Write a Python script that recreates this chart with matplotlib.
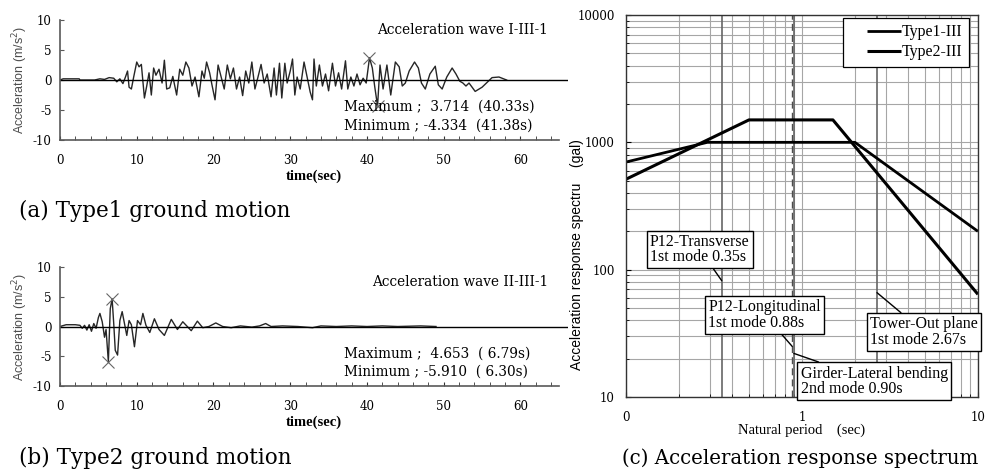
import matplotlib
matplotlib.use('Agg')
import matplotlib.pyplot as plt
from matplotlib.lines import Line2D
from matplotlib.legend_handler import HandlerLine2D
from matplotlib.ticker import FixedLocator, NullFormatter, LogLocator

# --- (a) Type1 wave: turning points ---
t1 = [0, 0.4, 2.5, 2.6, 4.5, 5.2, 5.8, 6.4, 7.0, 7.4, 7.8, 8.2, 8.5, 8.8, 9.0, 9.3, 9.6,
      10.0, 10.3, 10.6, 11.0, 11.3, 11.6, 11.9, 12.2, 12.5, 12.9, 13.3, 13.6, 13.9, 14.3,
      14.7, 15.2, 15.6, 16.0, 16.4, 16.8, 17.2, 17.6, 18.1, 18.5, 18.8, 19.1, 19.5, 19.8,
      20.2, 20.6, 21.0, 21.4, 21.8, 22.2, 22.6, 23.0, 23.4, 23.8, 24.2, 24.6, 25.0, 25.4,
      25.8, 26.2, 26.6, 27.0, 27.5, 27.9, 28.2, 28.6, 28.9, 29.3, 29.6, 30.0, 30.3, 30.6,
      30.9, 31.3, 31.8, 32.2, 32.6, 32.9, 33.1, 33.4, 33.8, 34.2, 34.6, 35.0, 35.5, 35.9,
      36.3, 36.7, 37.2, 37.5, 37.9, 38.3, 38.7, 39.1, 39.5, 39.9, 40.33, 40.7, 41.0, 41.38,
      41.7, 42.1, 42.6, 43.1, 43.7, 44.2, 44.6, 45.0, 45.5, 46.2, 46.7, 47.1, 47.6, 48.2,
      48.9, 49.3, 49.8, 50.4, 51.1, 51.6, 52.1, 52.5, 52.9, 53.3, 54.1, 55.0, 56.3, 57.2, 58.2]
a1 = [0, 0.2, 0.2, 0, 0, 0.2, 0.1, 0.4, 0.3, -0.3, 0.2, -0.6, 0.4, 1.5, -1.2, -1.5, 0.5,
      3.0, 2.2, 2.6, -3.0, -1.0, 1.2, -2.5, 2.0, 0.8, 1.8, -0.5, 3.3, -1.5, -1.3,
      0.6, -2.5, 1.8, 0.8, 3.0, 2.0, -1.0, 0.5, -2.8, 1.5, 0.3, 3.0, 1.2, -0.8,
      -3.3, 2.5, 0.5, -1.5, 2.5, 0.2, 2.0, -1.5, 0.5, -2.6, 1.5, -0.5, 3.0, -1.5,
      0.5, 2.6, -0.5, 1.0, -2.8, 2.0, -2.5, 2.8, -3.0, 2.8, -0.5, 1.5, 3.5, -2.5,
      0.5, -1.5, 3.0, 0.5, -2.0, -3.3, 3.5, -1.0, 2.5, -1.0, 1.0, -1.8, 2.8, -1.0,
      1.2, -1.5, 3.2, -1.5, 0.5, -1.0, 1.0, -0.8, 0.3, -0.5, 3.714, 2.0, -1.0, -4.334,
      2.5, -1.5, 2.5, -2.5, 3.0, 2.2, -1.0, -0.5, 1.5, 3.0, 2.0, -0.5, -1.5, 1.0,
      2.3, -0.8, -1.5, 0.5, 2.0, 1.0, -0.2, -0.5, -1.0, -0.5, -1.9, -1.2, 0.4, 0.5, 0.0]

# --- (b) Type2 wave ---
t2 = [0, 0.8, 2.0, 2.6, 2.9, 3.2, 3.5, 3.8, 4.1, 4.4, 4.7, 5.0, 5.2, 5.5, 5.8, 6.0, 6.30,
      6.55, 6.79, 7.0, 7.2, 7.5, 7.8, 8.1, 8.4, 8.7, 9.0, 9.3, 9.7, 10.1, 10.5, 10.8, 11.2,
      11.7, 12.3, 12.9, 13.6, 14.5, 15.3, 16.0, 17.1, 17.9, 18.6, 19.4, 20.3, 21.2, 22.3,
      23.5, 25.0, 26.0, 26.8, 27.5, 29.0, 31.0, 32.9, 34.0, 36.0, 38.0, 40.0, 42.0, 44.0,
      47.0, 49.0]
a2 = [0, 0.3, 0.3, 0.2, -0.3, 0.2, -0.6, 0.3, -0.8, 0.5, -0.3, 1.5, 2.2, 0.8, -1.8, -0.5, -5.910,
      3.0, 4.653, 0.5, -4.0, -4.8, 1.0, 2.5, 0.5, -1.5, 1.0, 0.3, -3.4, 1.0, 0.3, 2.2, 0.2,
      -1.0, 1.3, -0.5, -1.5, 1.2, -0.5, 0.8, -0.7, 0.9, -0.2, 0.0, 0.6, 0.0, -0.2,
      0.1, -0.1, 0.1, 0.5, 0.0, 0.1, 0.0, -0.2, 0.1, 0.0, 0.1, 0.0, 0.1, 0.0,
      0.1, 0.0]

peaks1 = [(40.33, 3.714), (41.38, -4.334)]
peaks2 = [(6.79, 4.653), (6.30, -5.910)]

# --- (c) spectra (break points on log-log) ---
T_type1 = [0.1, 0.29, 2.0, 10.0]
S_type1 = [700, 1000, 1000, 200]
T_type2 = [0.1, 0.5, 1.5, 10.0]
S_type2 = [513, 1500, 1500, 64]

modes = [
    ("P12-Transverse\n1st mode 0.35s", 0.35, 82, (0.210, 0.386)),
    ("P12-Longitudinal\n1st mode 0.88s", 0.88, 25, (0.394, 0.215)),
    ("Girder-Lateral bending\n2nd mode 0.90s", 0.90, 22, (0.705, 0.041)),
    ("Tower-Out plane\n1st mode 2.67s", 2.67, 66, (0.847, 0.170)),
]

TIMES = 'Liberation Serif'
WIDE = 'DejaVu Serif'
plt.rcParams['font.family'] = TIMES
plt.rcParams['axes.unicode_minus'] = False

fig = plt.figure(figsize=(9.87, 4.70), dpi=100)


def wave_axes(rect, t, a, peaks, name, maxtxt, mintxt, ytxt):
    ax = fig.add_axes(rect)
    ax.plot(t, a, color='0.15', lw=1.0)
    ax.axhline(0, color='black', lw=1.0)
    for pt, pa in peaks:
        ax.plot(pt, pa, marker='x', ms=9, mew=0.8, color='0.4', ls='none')
    ax.set_xlim(0, 66.2)
    ax.set_ylim(-10, 10)
    for s in ['top', 'right']:
        ax.spines[s].set_visible(False)
    for s in ['left', 'bottom']:
        ax.spines[s].set_color('0.35')
        ax.spines[s].set_linewidth(1.2)
    ax.spines['bottom'].set_bounds(0, 65)
    ax.set_xticks(range(0, 61, 10))
    ax.xaxis.set_minor_locator(FixedLocator(range(0, 66, 2)))
    ax.set_yticks([-10, -5, 0, 5, 10])
    ax.tick_params(axis='x', which='both', direction='in', length=3, pad=10,
                   labelsize=8.5, color='0.2', labelfontfamily=WIDE)
    ax.tick_params(axis='y', direction='in', length=3, pad=6, labelsize=8.5, color='0.35',
                   labelfontfamily=WIDE)
    ax.set_xlabel('time(sec)', fontsize=10.5, fontweight='bold', labelpad=2)
    ax.set_ylabel('Acceleration (m/s$^2$)', family='Liberation Sans', fontsize=9,
                  color='0.3', labelpad=2)
    ax.text(63.6, ytxt, name, ha='right', va='center', fontsize=9.8, family=WIDE)
    ax.text(37.0, -4.5, maxtxt, ha='left', va='center', fontsize=9.8, family=WIDE)
    ax.text(37.0, -7.6, mintxt, ha='left', va='center', fontsize=9.8, family=WIDE)
    return ax


wave_axes([0.0608, 0.7021, 0.5147, 0.2553], t1, a1, peaks1,
          'Acceleration wave I-III-1', 'Maximum ;  3.714  (40.33s)',
          'Minimum ; -4.334  (41.38s)', 8.3)
wave_axes([0.0608, 0.1787, 0.5147, 0.2532], t2, a2, peaks2,
          'Acceleration wave II-III-1', 'Maximum ;  4.653  ( 6.79s)',
          'Minimum ; -5.910  ( 6.30s)', 7.4)

# --- spectrum panel ---
ax = fig.add_axes([0.6342, 0.1553, 0.3566, 0.8128])
ax.set_xscale('log')
ax.set_yscale('log')
ax.set_xlim(0.1, 10)
ax.set_ylim(10, 10000)
ax.xaxis.set_minor_locator(LogLocator(base=10, subs=range(2, 10)))
ax.yaxis.set_minor_locator(LogLocator(base=10, subs=range(2, 10)))
ax.xaxis.set_minor_formatter(NullFormatter())
ax.yaxis.set_minor_formatter(NullFormatter())
ax.set_xticks([0.1, 1, 10])
ax.set_xticklabels(['0', '1', '10'])
ax.set_yticks([10, 100, 1000, 10000])
ax.set_yticklabels(['10', '100', '1000', '10000'])
ax.grid(True, which='both', color='0.65', lw=0.8)
ax.tick_params(which='both', direction='in', labelsize=8.5, labelfontfamily=WIDE)
ax.tick_params(axis='x', pad=10)
ax.tick_params(axis='y', pad=8)
for s in ax.spines.values():
    s.set_color('0.2')
    s.set_linewidth(1.0)

for label, T, S, pos in modes:
    if T == 0.88:
        ax.axvline(T, color='0.3', lw=1.0, ls=(0, (5, 3)))
    else:
        ax.axvline(T, color='0.4', lw=1.2)

ax.plot(T_type1, S_type1, color='black', lw=2.0, label='Type1-III', solid_capstyle='butt')
ax.plot(T_type2, S_type2, color='black', lw=2.2, label='Type2-III', solid_capstyle='butt')

leg = ax.legend(loc='upper right', bbox_to_anchor=(0.974, 0.992), fontsize=11.5,
                frameon=True, fancybox=False, edgecolor='black', framealpha=1,
                handlelength=3.2, handletextpad=0.05, borderpad=0.4, labelspacing=0.25,
                borderaxespad=0.0, handler_map={Line2D: HandlerLine2D(xpad=1.1)})
leg.get_frame().set_linewidth(0.9)

for label, T, S, pos in modes:
    ax.annotate(label, xy=(T, S), xycoords='data', xytext=pos, textcoords='axes fraction',
                ha='center', va='center', multialignment='left', fontsize=11.5,
                linespacing=0.95,
                bbox=dict(boxstyle='square,pad=0.2', fc='white', ec='black', lw=1.0),
                arrowprops=dict(arrowstyle='-', color='black', lw=1.0,
                                shrinkA=0, shrinkB=0),
                annotation_clip=False, zorder=5)

ax.set_xlabel('Natural period    (sec)', fontsize=10.5, labelpad=0)
ax.set_ylabel('Acceleration response spectru    (gal)', family='Liberation Sans',
              fontsize=10)
ax.yaxis.set_label_coords(-0.118, 0.372)

# captions
fig.text(155 / 987, 1 - 211 / 470, '(a) Type1 ground motion', ha='center', va='center',
         fontsize=15.5, family=WIDE)
fig.text(155 / 987, 1 - 458 / 470, '(b) Type2 ground motion', ha='center', va='center',
         fontsize=15.5, family=WIDE)
fig.text(800 / 987, 1 - 458 / 470, '(c) Acceleration response spectrum', ha='center',
         va='center', fontsize=14.2, family=WIDE)

fig.savefig('out.png', dpi=100)
